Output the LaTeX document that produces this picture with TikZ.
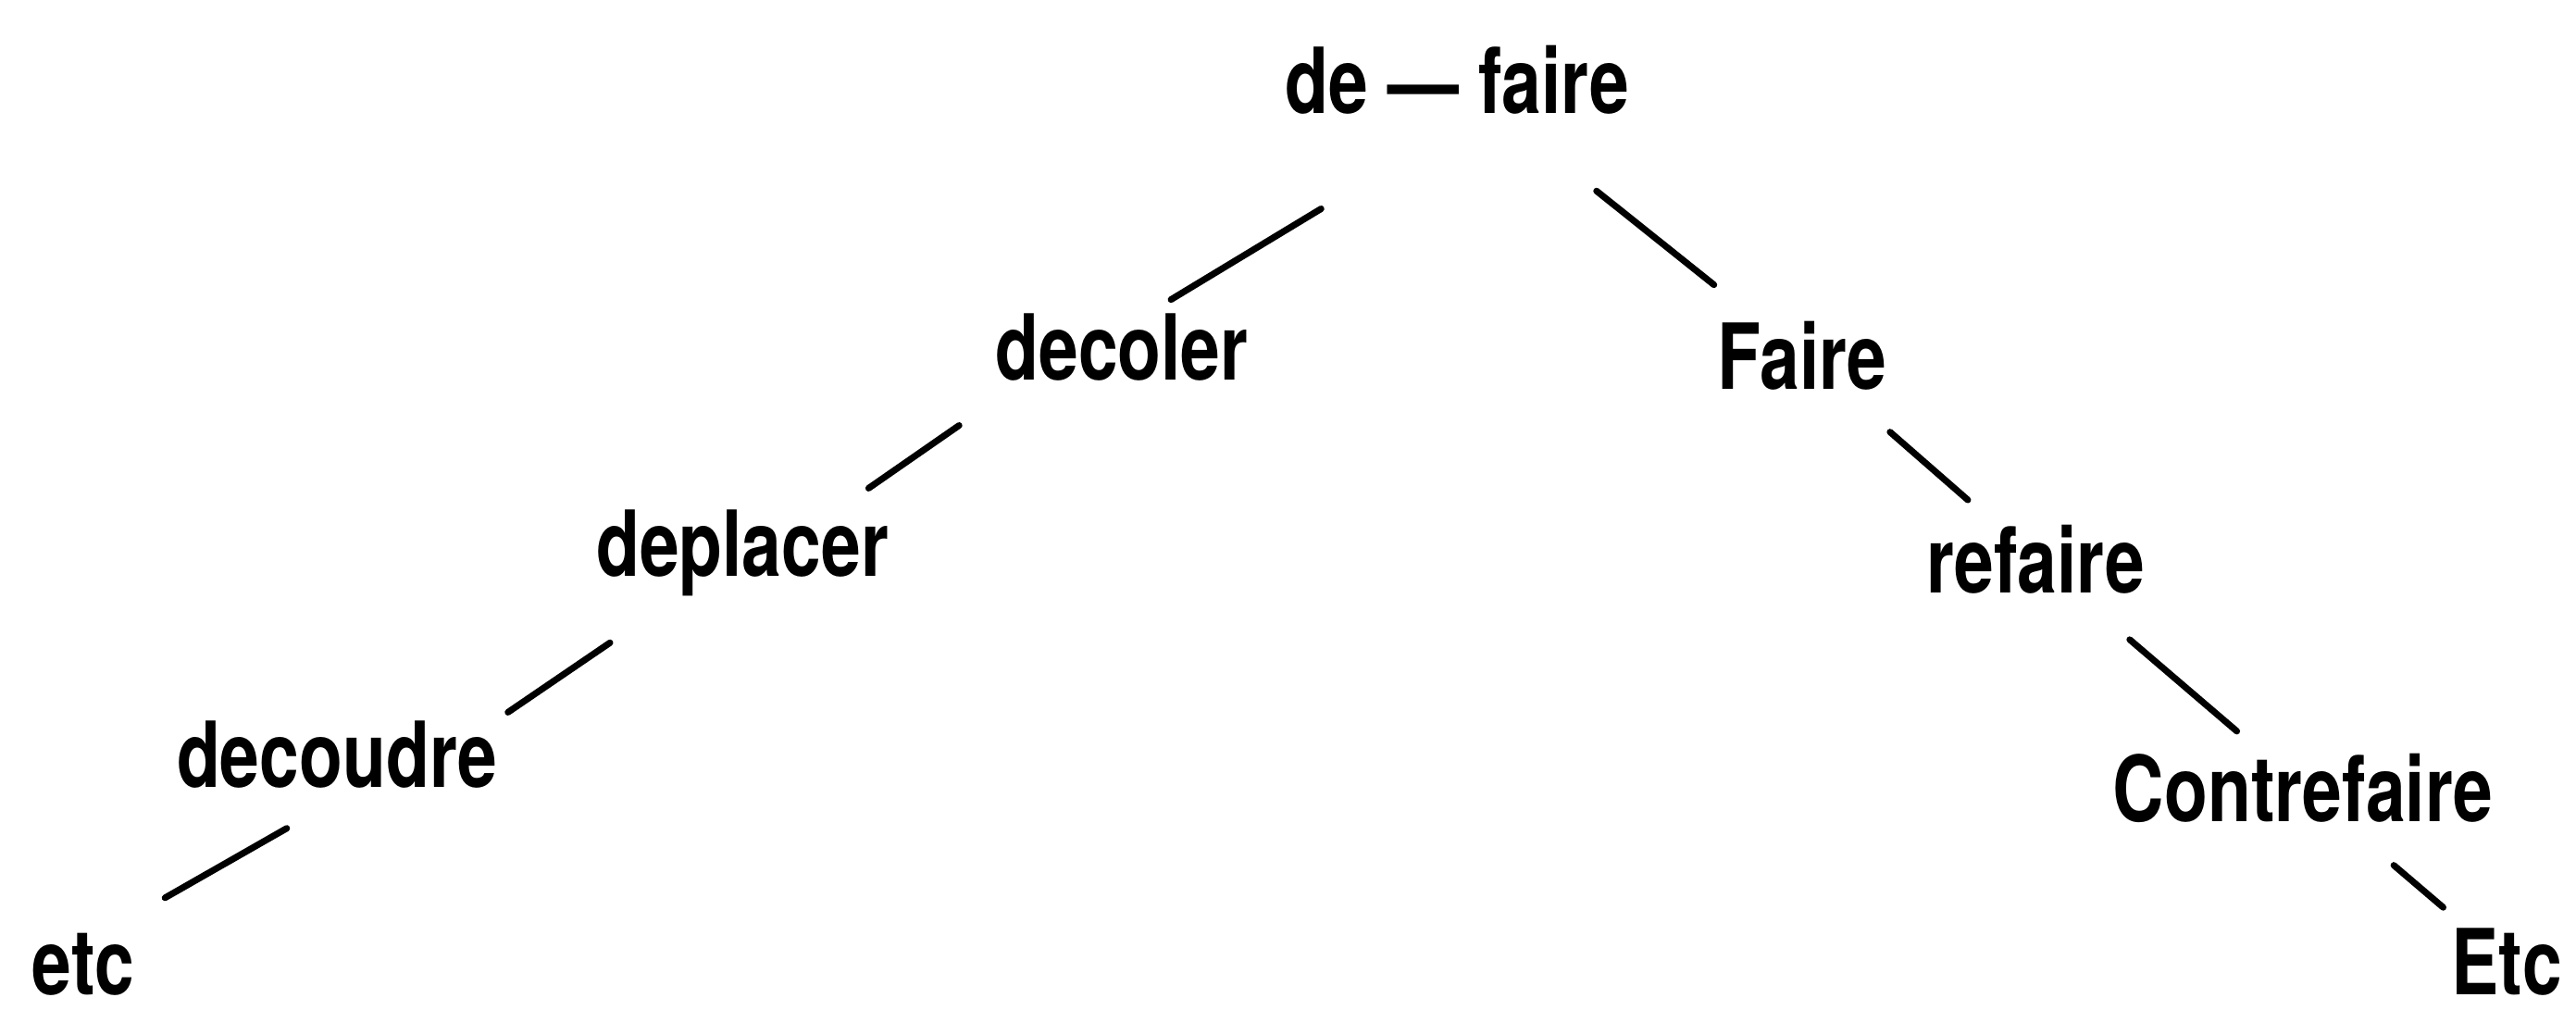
\documentclass[tikz,border=0pt]{standalone}
\usepackage{fontspec}
\setsansfont{TeX Gyre Heros}[FakeStretch=0.78]
\usepackage{tikz}

\begin{document}
\begin{tikzpicture}[
    word/.style={inner sep=0pt, anchor=base, font=\sffamily\bfseries\fontsize{28}{30}\selectfont},
    link/.style={line width=2pt, line cap=round}]
    \useasboundingbox (0,0) rectangle (27.83,-10.90);

    % Words
    \node[word] (root) at (15.74,-1.22) {de — faire};

    \node[word] (decoler) at (12.12,-4.10) {decoler};
    \node[word] (deplacer) at (8.02,-6.22) {deplacer};
    \node[word] (decoudre) at (3.64,-8.50) {decoudre};
    \node[word] (etcL) at (0.90,-10.74) {etc};

    \node[word] (Faire) at (19.47,-4.20) {Faire};
    \node[word] (refaire) at (21.99,-6.40) {refaire};
    \node[word] (contre) at (24.88,-8.87) {Contrefaire};
    \node[word] (etcR) at (27.08,-10.74) {Etc};

    % Branches, left
    \draw[link, shorten <=0.27cm, shorten >=1.97cm] (decoler.51) -- (root.-60);
    \draw[link, shorten <=1.66cm, shorten >=2.14cm] (deplacer.base) -- (decoler.north);
    \draw[link, shorten <=1.46cm, shorten >=1.73cm] (decoudre.-30) -- (deplacer.center);
    \draw[link, shorten <=0.75cm, shorten >=0.87cm] (etcL.56) -- (decoudre.-60);

    % Branches, right
    \draw[link, shorten <=1.93cm, shorten >=1.22cm] (root.center) -- (Faire.center);
    \draw[link, shorten <=1.26cm, shorten >=0.97cm] (Faire.center) -- (refaire.center);
    \draw[link, shorten <=1.34cm, shorten >=0.94cm] (refaire.center) -- (contre.center);
    \draw[link, shorten <=1.29cm, shorten >=0.90cm] (contre.center) -- (etcR.center);
\end{tikzpicture}
\end{document}
